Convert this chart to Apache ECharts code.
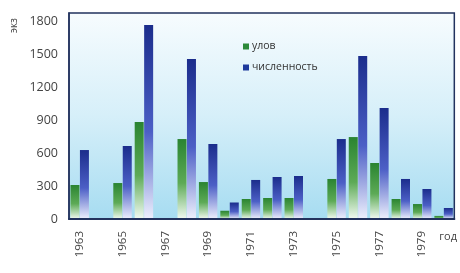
<!DOCTYPE html>
<html>
<head>
<meta charset="utf-8">
<script src="https://cdn.jsdelivr.net/npm/echarts@6/dist/echarts.min.js"></script>
<style>
  html, body { margin: 0; padding: 0; background: #fff; }
  #chart { width: 460px; height: 273px; }
</style>
</head>
<body>
<div id="chart"></div>
<script>
// years on the x axis
const years = ['1963', '1964', '1965', '1966', '1967', '1968', '1969', '1970', '1971',
  '1972', '1973', '1974', '1975', '1976', '1977', '1978', '1979', '1980'];
// улов (catch), экз
const catchVals = [309, 0, 327, 882, 0, 727, 336, 75, 182, 191, 191, 0, 364, 745, 509, 182, 136, 28];
// численность (population), экз
const popVals = [627, 0, 664, 1764, 0, 1454, 682, 150, 355, 382, 391, 0, 727, 1482, 1009, 364, 273, 100];

const FONT = '"Open Sans", "DejaVu Sans", sans-serif';

function fade(top, mid, bottom) {
  return new echarts.graphic.LinearGradient(0, 0, 0, 1, [
    { offset: 0, color: top },
    { offset: 0.55, color: mid },
    { offset: 1, color: bottom }
  ]);
}

const chart = echarts.init(document.getElementById('chart'));
chart.setOption({
  animation: false,
  backgroundColor: '#ffffff',
  grid: {
    left: 69, right: 4, top: 13, bottom: 54,
    show: true,
    borderColor: '#22325e',
    borderWidth: 1.5,
    backgroundColor: new echarts.graphic.LinearGradient(0, 0, 0, 1, [
      { offset: 0, color: '#f7fcfe' },
      { offset: 0.5, color: '#d6eff9' },
      { offset: 1, color: '#a6dcf1' }
    ])
  },
  legend: {
    orient: 'vertical',
    left: 238, top: 36,
    itemWidth: 6, itemHeight: 6, itemGap: 10,
    icon: 'rect',
    textStyle: { fontFamily: FONT, fontSize: 10.5, color: '#333', padding: [0, 0, 0, -2] },
    data: [
      { name: 'улов', itemStyle: { color: '#2c8a3a' } },
      { name: 'численность', itemStyle: { color: '#1f3a9c' } }
    ]
  },
  xAxis: {
    type: 'category',
    data: years,
    z: 5,
    name: 'год',
    nameLocation: 'end',
    nameGap: -15,
    nameTextStyle: { fontFamily: FONT, fontSize: 11, color: '#444', align: 'left', verticalAlign: 'top', padding: [12, 0, 0, 0] },
    axisLine: { lineStyle: { color: '#22325e', width: 2 } },
    axisTick: { show: false },
    axisLabel: { interval: 1, rotate: 90, margin: 12, fontFamily: FONT, fontSize: 11.5, color: '#444' }
  },
  yAxis: {
    type: 'value',
    min: 0, max: 1873, interval: 300,
    z: 5,
    splitLine: { show: false },
    axisLine: { show: true, lineStyle: { color: '#22325e', width: 1.5 } },
    axisTick: { show: false },
    axisLabel: {
      margin: 11, fontFamily: FONT, fontSize: 12.5, color: '#444',
      formatter: v => (v % 300 === 0 ? String(v) : '')
    }
  },
  // axis unit, written upward beside the top label
  graphic: [{
    type: 'text', x: 9, y: 33, rotation: Math.PI / 2,
    style: { text: 'экз', font: '10px ' + FONT, fill: '#444', align: 'left', verticalAlign: 'top' }
  }],
  series: [
    {
      name: 'улов', type: 'bar', data: catchVals,
      barWidth: 9, barGap: '5%',
      itemStyle: { color: fade('#2a8431', '#5daa56', '#f2faf2') }
    },
    {
      name: 'численность', type: 'bar', data: popVals,
      barWidth: 9,
      itemStyle: { color: fade('#1b2d8c', '#4c5fc6', '#eef0fd') }
    }
  ]
});
</script>
</body>
</html>
